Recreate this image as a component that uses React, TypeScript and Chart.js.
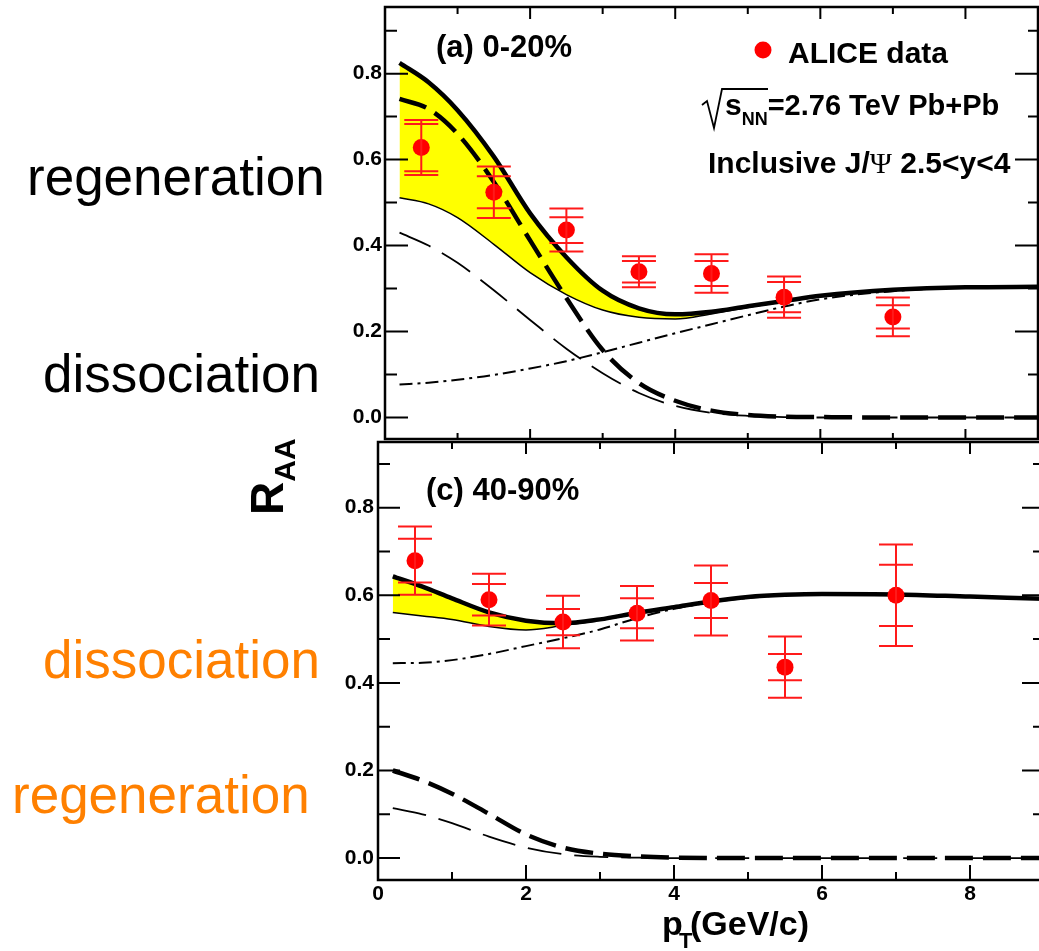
import React, { useEffect, useRef } from "react";
import { Chart, registerables } from "chart.js";

Chart.register(...registerables);

const FONT = '"Liberation Sans", Arial, Helvetica, sans-serif';
Chart.defaults.font.family = FONT;

// ---------- data ----------
const pT = [0.2, 0.6, 1.0, 1.5, 2.0, 2.5, 3.0, 3.5, 4.0, 4.5, 5.0, 5.5, 6.0, 7.0, 8.0, 9.0];

// (a) 0-20%
const aTotalUpper = [0.825, 0.78, 0.715, 0.607, 0.475, 0.373, 0.295, 0.254, 0.24, 0.246, 0.259, 0.271, 0.283, 0.297, 0.303, 0.304];
const aTotalLower = [0.511, 0.497, 0.465, 0.403, 0.337, 0.286, 0.25, 0.233, 0.229, 0.241, 0.256, 0.269, 0.281, 0.296, 0.302, 0.303];
const aRegenUpper = [0.741, 0.718, 0.66, 0.548, 0.412, 0.278, 0.157, 0.08, 0.039, 0.016, 0.006, 0.002, 0.001, 0, 0, 0];
const aRegenLower = [0.43, 0.4, 0.36, 0.296, 0.227, 0.16, 0.103, 0.057, 0.027, 0.011, 0.004, 0.001, 0, 0, 0, 0];
const aPrimordial = [0.077, 0.081, 0.088, 0.099, 0.114, 0.131, 0.152, 0.174, 0.196, 0.217, 0.238, 0.258, 0.275, 0.294, 0.302, 0.303];

// (c) 40-90%
const cTotalUpper = [0.643, 0.62, 0.593, 0.561, 0.542, 0.536, 0.545, 0.56, 0.573, 0.586, 0.596, 0.601, 0.603, 0.602, 0.597, 0.592];
const cTotalLower = [0.561, 0.553, 0.545, 0.529, 0.521, 0.531, 0.543, 0.558, 0.572, 0.585, 0.595, 0.6, 0.602, 0.601, 0.596, 0.591];
const cRegenUpper = [0.2, 0.177, 0.147, 0.101, 0.054, 0.024, 0.01, 0.004, 0.001, 0, 0, 0, 0, 0, 0, 0];
const cRegenLower = [0.114, 0.1, 0.08, 0.049, 0.024, 0.009, 0.003, 0.001, 0, 0, 0, 0, 0, 0, 0, 0];
const cPrimordial = [0.445, 0.446, 0.452, 0.466, 0.484, 0.502, 0.522, 0.548, 0.569, 0.584, 0.594, 0.6, 0.602, 0.601, 0.596, 0.591];

// ALICE data points
const dataPt = [0.5, 1.5, 2.5, 3.5, 4.5, 5.5, 7.0];
const aData = [0.628, 0.524, 0.436, 0.339, 0.335, 0.28, 0.234];
const aErrInner = [0.055, 0.037, 0.03, 0.025, 0.029, 0.035, 0.027];
const aErrOuter = [0.064, 0.06, 0.05, 0.036, 0.045, 0.048, 0.045];
const cData = [0.679, 0.59, 0.539, 0.559, 0.588, 0.436, 0.6];
const cErrInner = [0.05, 0.036, 0.03, 0.034, 0.04, 0.03, 0.07];
const cErrOuter = [0.078, 0.059, 0.06, 0.062, 0.08, 0.07, 0.116];

// ticks
const yTicks = [0, 0.2, 0.4, 0.6, 0.8];
const yMinorTicks = [0.1, 0.3, 0.5, 0.7, 0.9];
const xTicks = [0, 2, 4, 6, 8];
const xMinorTicks = [1, 3, 5, 7, 9];

// ---------- helpers ----------
const zip = (xs: number[], ys: number[]) => xs.map((x, i) => ({ x, y: ys[i] }));

type TickLen = { lm: number; ln: number; rm: number; rn: number; tm: number; tn: number; bm: number; bn: number };

function framePlugin(t: TickLen) {
  return {
    id: "rootFrame",
    afterDraw(chart: any) {
      const { ctx, chartArea: a, scales } = chart;
      const x = scales.x;
      const y = scales.y;
      ctx.save();
      ctx.strokeStyle = "#000";
      ctx.lineWidth = 2;
      ctx.beginPath();
      const yt = (vals: number[], l: number, r: number) => {
        for (const v of vals) {
          const py = y.getPixelForValue(v);
          ctx.moveTo(a.left, py);
          ctx.lineTo(a.left + l, py);
          ctx.moveTo(a.right, py);
          ctx.lineTo(a.right - r, py);
        }
      };
      const xt = (vals: number[], tl: number, bl: number) => {
        for (const v of vals) {
          const px = x.getPixelForValue(v);
          ctx.moveTo(px, a.top);
          ctx.lineTo(px, a.top + tl);
          ctx.moveTo(px, a.bottom);
          ctx.lineTo(px, a.bottom - bl);
        }
      };
      yt(yTicks, t.lm, t.rm);
      yt(yMinorTicks, t.ln, t.rn);
      xt(xTicks, t.tm, t.bm);
      xt(xMinorTicks, t.tn, t.bn);
      ctx.stroke();
      ctx.lineWidth = 2.5;
      ctx.strokeRect(a.left, a.top, a.right - a.left, a.bottom - a.top);
      ctx.restore();
    },
  };
}

function errorBarPlugin(ys: number[], inner: number[], outer: number[]) {
  return {
    id: "errorBars",
    afterDatasetsDraw(chart: any) {
      const { ctx, scales } = chart;
      const x = scales.x;
      const y = scales.y;
      const hw = 17;
      ctx.save();
      ctx.strokeStyle = "#ff1a1a";
      ctx.lineWidth = 2;
      ctx.beginPath();
      dataPt.forEach((xv, i) => {
        const px = x.getPixelForValue(xv);
        const caps = [ys[i] + outer[i], ys[i] + inner[i], ys[i] - inner[i], ys[i] - outer[i]];
        ctx.moveTo(px, y.getPixelForValue(caps[0]));
        ctx.lineTo(px, y.getPixelForValue(caps[3]));
        for (const c of caps) {
          const py = y.getPixelForValue(c);
          ctx.moveTo(px - hw, py);
          ctx.lineTo(px + hw, py);
        }
      });
      ctx.stroke();
      ctx.restore();
    },
  };
}

function txt(ctx: CanvasRenderingContext2D, s: string, x: number, y: number, font: string, color = "#000") {
  ctx.font = font;
  ctx.fillStyle = color;
  ctx.textAlign = "left";
  ctx.textBaseline = "alphabetic";
  ctx.fillText(s, x, y);
  return x + ctx.measureText(s).width;
}

const topAnnotations = {
  id: "topText",
  afterDraw(chart: any) {
    const ctx: CanvasRenderingContext2D = chart.ctx;
    ctx.save();
    txt(ctx, "(a) 0-20%", 436, 57, `bold 31px ${FONT}`);
    ctx.fillStyle = "#ff0000";
    ctx.beginPath();
    ctx.arc(763, 50, 8.5, 0, Math.PI * 2);
    ctx.fill();
    txt(ctx, "ALICE data", 788, 63, `bold 30px ${FONT}`);
    // radical sign
    ctx.strokeStyle = "#000";
    ctx.lineWidth = 1.8;
    ctx.beginPath();
    ctx.moveTo(702, 105);
    ctx.lineTo(707, 101);
    ctx.lineTo(714, 128);
    ctx.lineTo(722, 89);
    ctx.lineTo(768, 89);
    ctx.stroke();
    let x = txt(ctx, "s", 725, 115, `bold 30px ${FONT}`);
    x = txt(ctx, "NN", x, 125, `bold 18px ${FONT}`);
    txt(ctx, "=2.76 TeV Pb+Pb", x, 115, `bold 29px ${FONT}`);
    x = txt(ctx, "Inclusive J/", 708, 173, `bold 30px ${FONT}`);
    x = txt(ctx, "Ψ", x, 173, `30px "Liberation Serif", "DejaVu Serif", serif`);
    txt(ctx, " 2.5<y<4", x, 173, `bold 30px ${FONT}`);
    ctx.restore();
  },
};

const bottomAnnotations = {
  id: "bottomText",
  afterDraw(chart: any) {
    const ctx: CanvasRenderingContext2D = chart.ctx;
    ctx.save();
    txt(ctx, "(c) 40-90%", 426, 60, `bold 31px ${FONT}`);
    txt(ctx, "p", 662, 495, `bold 34px ${FONT}`);
    txt(ctx, "T", 679, 508, `bold 22px ${FONT}`);
    txt(ctx, "(GeV/c)", 690, 495, `bold 34px ${FONT}`);
    ctx.restore();
  },
};

type PanelCfg = {
  upper: number[];
  lower: number[];
  regenUp: number[];
  regenLow: number[];
  prim: number[];
  data: number[];
  inner: number[];
  outer: number[];
  yMax: number;
  padding: { left: number; right: number; top: number; bottom: number };
  yAxisWidth: number;
  yPad: number;
  showX: boolean;
  xAxisHeight: number;
  ticks: TickLen;
  annotations: any;
};

const zeroPad = (s: any) => {
  s.paddingTop = 0;
  s.paddingBottom = 0;
  s.paddingLeft = 0;
  s.paddingRight = 0;
};

function buildConfig(p: PanelCfg): any {
  const curve = (vals: number[], width: number, dash: number[] = []) => ({
    data: zip(pT, vals),
    showLine: true,
    borderColor: "#000",
    borderWidth: width,
    borderDash: dash,
    pointRadius: 0,
    cubicInterpolationMode: "monotone",
    fill: false,
  });
  return {
    type: "scatter",
    data: {
      datasets: [
        {
          label: "ALICE data",
          data: zip(dataPt, p.data),
          showLine: false,
          pointRadius: 8.5,
          pointBackgroundColor: "#ff0000",
          pointBorderWidth: 0,
          backgroundColor: "#ff0000",
          borderColor: "#ff0000",
        },
        { label: "total (upper)", ...curve(p.upper, 4.5) },
        { label: "regeneration (upper)", ...curve(p.regenUp, 4.5, [28, 10]) },
        { label: "regeneration (lower)", ...curve(p.regenLow, 1.8, [34, 13]) },
        { label: "primordial", ...curve(p.prim, 2, [13, 5, 3, 5]) },
        { label: "total (lower)", ...curve(p.lower, 1.5), fill: 1, backgroundColor: "#ffff00" },
      ],
    },
    options: {
      animation: false,
      responsive: false,
      events: [],
      layout: { padding: p.padding, autoPadding: false },
      plugins: { legend: { display: false }, tooltip: { enabled: false } },
      scales: {
        x: {
          type: "linear",
          min: 0,
          max: 9,
          display: p.showX,
          grid: { display: false, drawTicks: false },
          border: { display: false },
          ticks: {
            font: { size: 21, weight: "bold" },
            color: "#000",
            padding: 2,
            maxRotation: 0,
            callback: (v: any) => String(v),
          },
          afterBuildTicks: (s: any) => {
            s.ticks = xTicks.map((v) => ({ value: v }));
          },
          afterFit: (s: any) => {
            s.height = p.xAxisHeight;
            zeroPad(s);
          },
        },
        y: {
          type: "linear",
          min: -0.05,
          max: p.yMax,
          grid: { display: false, drawTicks: false },
          border: { display: false },
          ticks: {
            font: { size: 21, weight: "bold" },
            color: "#000",
            padding: p.yPad,
            callback: (v: any) => Number(v).toFixed(1),
          },
          afterBuildTicks: (s: any) => {
            s.ticks = yTicks.map((v) => ({ value: v }));
          },
          afterFit: (s: any) => {
            s.width = p.yAxisWidth;
            zeroPad(s);
          },
        },
      },
    },
    plugins: [errorBarPlugin(p.data, p.inner, p.outer), framePlugin(p.ticks), p.annotations],
  };
}

const sideLabel = (text: string, left: number, baseline: number, color: string) => (
  <div
    style={{
      position: "absolute",
      left,
      top: baseline - 45,
      fontSize: 53,
      lineHeight: "53px",
      color,
      whiteSpace: "nowrap",
    }}
  >
    {text}
  </div>
);

export default function App() {
  const topRef = useRef<HTMLCanvasElement>(null);
  const botRef = useRef<HTMLCanvasElement>(null);

  useEffect(() => {
    const a = new Chart(
      topRef.current as HTMLCanvasElement,
      buildConfig({
        upper: aTotalUpper,
        lower: aTotalLower,
        regenUp: aRegenUpper,
        regenLow: aRegenLower,
        prim: aPrimordial,
        data: aData,
        inner: aErrInner,
        outer: aErrOuter,
        yMax: 0.955,
        padding: { left: 0, right: 1, top: 7, bottom: 6 },
        yAxisWidth: 385,
        yPad: 3,
        showX: false,
        xAxisHeight: 0,
        ticks: { lm: 23, ln: 12, rm: 23, rn: 10, tm: 12, tn: 7, bm: 10, bn: 6 },
        annotations: topAnnotations,
      })
    );
    const b = new Chart(
      botRef.current as HTMLCanvasElement,
      buildConfig({
        upper: cTotalUpper,
        lower: cTotalLower,
        regenUp: cRegenUpper,
        regenLow: cRegenLower,
        prim: cPrimordial,
        data: cData,
        inner: cErrInner,
        outer: cErrOuter,
        yMax: 0.95,
        padding: { left: 0, right: 6, top: 2, bottom: 0 },
        yAxisWidth: 378,
        yPad: 4,
        showX: true,
        xAxisHeight: 71,
        ticks: { lm: 22, ln: 12, rm: 22, rn: 11, tm: 12, tn: 7, bm: 15, bn: 8 },
        annotations: bottomAnnotations,
      })
    );
    return () => {
      a.destroy();
      b.destroy();
    };
  }, []);

  return (
    <div
      style={{
        position: "absolute",
        left: 0,
        top: 0,
        width: 1039,
        height: 951,
        overflow: "hidden",
        background: "#fff",
        fontFamily: FONT,
      }}
    >
      <canvas ref={topRef} width={1039} height={445} style={{ position: "absolute", left: 0, top: 0 }} />
      <canvas ref={botRef} width={1050} height={511} style={{ position: "absolute", left: 0, top: 440 }} />
      {sideLabel("regeneration", 27, 195, "#000")}
      {sideLabel("dissociation", 43, 392, "#000")}
      {sideLabel("dissociation", 43, 678, "#ff8000")}
      {sideLabel("regeneration", 12, 813, "#ff8000")}
      <div
        style={{
          position: "absolute",
          left: 244,
          top: 515,
          transformOrigin: "0 0",
          transform: "rotate(-90deg)",
          fontSize: 46,
          fontWeight: "bold",
          lineHeight: "46px",
          whiteSpace: "nowrap",
          color: "#000",
        }}
      >
        R<span style={{ fontSize: 30, position: "relative", top: 12 }}>AA</span>
      </div>
    </div>
  );
}
